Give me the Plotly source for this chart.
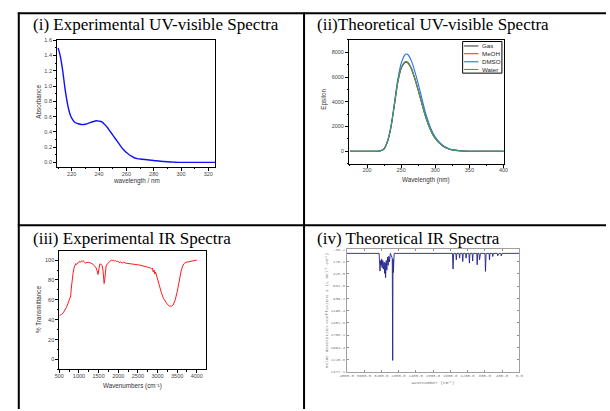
import plotly.graph_objects as go

W, H = 610, 411
def px(x):
    return x / W
def py(y):
    return (H - y) / H

# ---------------- data ----------------
# (i) experimental UV-vis
uv_exp_wl = [210, 211, 212, 213, 214, 215, 216, 217, 218, 219, 220, 222, 224, 226, 228, 230, 232, 234, 236,
             238, 240, 242, 244, 246, 248, 250, 252, 254, 256, 258, 260, 262, 264, 266, 268, 270, 275, 280,
             285, 290, 295, 300, 310, 325]
uv_exp_abs = [1.50, 1.44, 1.36, 1.25, 1.12, 0.98, 0.86, 0.76, 0.68, 0.62, 0.58, 0.53, 0.51, 0.50, 0.495, 0.50,
              0.51, 0.525, 0.535, 0.545, 0.54, 0.53, 0.50, 0.46, 0.41, 0.36, 0.31, 0.26, 0.21, 0.165, 0.13,
              0.10, 0.08, 0.06, 0.05, 0.045, 0.035, 0.025, 0.015, 0.008, 0.003, 0.0, 0.0, 0.0]

# (ii) theoretical UV-vis
uv_th_wl = [175, 200, 210, 215, 220, 225, 230, 235, 240, 245, 250, 255, 257, 260, 265, 270, 275, 280, 285,
            290, 295, 300, 305, 310, 315, 320, 325, 330, 340, 350, 360, 380, 400]
uv_gas = [0, 0, 0, 5, 44, 205, 790, 1930, 3700, 5550, 6700, 7150, 7200, 7130, 6650, 5860, 4920, 3930, 2930,
          2140, 1490, 1040, 715, 475, 305, 190, 118, 74, 29, 11, 4, 1, 0]
uv_meoh = [0, 0, 0, 5, 45, 208, 795, 1940, 3720, 5580, 6730, 7180, 7230, 7160, 6680, 5880, 4940, 3940, 2940,
           2145, 1495, 1045, 718, 478, 308, 193, 119, 75, 30, 11, 4, 1, 0]
uv_dmso = [0, 0, 0, 5, 45, 210, 820, 2000, 3850, 5800, 7100, 7750, 7850, 7800, 7300, 6450, 5450, 4350, 3250,
           2380, 1660, 1160, 800, 530, 345, 215, 135, 85, 33, 12, 4, 1, 0]
uv_water = [0, 0, 0, 5, 45, 210, 800, 1950, 3750, 5600, 6750, 7200, 7250, 7180, 6700, 5900, 4950, 3950, 2950,
            2150, 1500, 1050, 720, 480, 310, 195, 120, 75, 30, 11, 4, 1, 0]
uv_series = ["Gas", "MeOH", "DMSO", "Water"]
uv_colors = ["#3c3c3c", "#ee3b3b", "#2f6fe8", "#3aa060"]

# (iii) experimental IR
ir_exp_wn = [500, 530, 560, 600, 640, 680, 720, 750, 770, 790, 800, 820, 850, 880, 900, 920, 940, 960, 980,
             1000, 1030, 1060, 1080, 1100, 1130, 1160, 1200, 1250, 1300, 1350, 1400, 1440, 1470, 1485, 1495,
             1510, 1530, 1560, 1590, 1610, 1625, 1640, 1655, 1670, 1690, 1720, 1760, 1790, 1820, 1850, 1880,
             1900, 1930, 1960, 1990, 2020, 2060, 2100, 2140, 2180, 2250, 2350, 2450, 2550, 2650, 2720, 2780,
             2820, 2850, 2870, 2890, 2910, 2930, 2950, 2970, 3000, 3050, 3100, 3150, 3200, 3250, 3300, 3350,
             3400, 3450, 3500, 3550, 3600, 3650, 3700, 3750, 3800, 3850, 3900, 3950, 4000]
ir_exp_t = [44, 44.5, 45.5, 47, 49.5, 52.5, 56.5, 60, 62, 64, 70, 79, 87, 93, 95.5, 96.5, 95.5, 97, 97.5,
            98.5, 98, 99, 98.5, 99.5, 98.5, 97, 97.5, 97.8, 97, 96, 94, 92, 88, 85.5, 88,
            94, 96, 96, 94.5, 90, 83, 76.5, 80, 88, 94, 96, 98, 99.5, 100, 99.5, 100,
            99, 99.5, 98.5, 99, 97.5, 98, 97, 98, 97, 96.8, 96, 95.5, 95, 94.2, 93.5, 92.5,
            92, 91, 92, 88, 90, 86, 88, 85, 81, 74, 67, 61.5, 58, 55.5, 54, 53.5,
            55, 60, 68, 79, 89, 95, 97.5, 98, 98.3, 98.6, 99, 99.5, 100]

# (iv) theoretical IR (Gaussview style, inverted axes)
ir_th_wn = [0, 400, 418, 428, 470, 500, 510, 600, 615, 625, 680, 691, 700, 770, 784, 795, 900, 922, 932,
            965, 976, 986, 1070, 1081, 1092, 1145, 1157, 1168, 1222, 1234, 1245, 1300, 1311, 1322, 1372,
            1384, 1395, 1448, 1460, 1471, 1522, 1536, 1550, 2900, 2920, 2928, 2935, 2945, 2990, 3010, 3025,
            3040, 3055, 3070, 3085, 3100, 3110, 3120, 3135, 3150, 3165, 3180, 3190, 3200, 3215, 3230, 3250,
            4000]
ir_th_eps = [0, 0, 55, 0, 0, 50, 0, 0, 66, 0, 0, 135, 0, 0, 377, 0, 0, 135, 0,
             0, 238, 0, 0, 160, 0, 0, 203, 0, 0, 100, 0, 0, 170, 0, 0,
             100, 0, 0, 135, 0, 0, 327, 0, 0, 400, 120, 2240, 100, 0, 180, 60,
             250, 80, 350, 150, 510, 200, 420, 180, 330, 150, 300, 120, 250, 150, 370, 0,
             0]
ir_th_yticks = [-86.2, 170.1, 426.5, 682.8, 939.1, 1195.4, 1451.8, 1708.1, 1964.4, 2220.8, 2477.1]
ir_th_xticks = [4000, 3600, 3200, 2800, 2400, 2000, 1600, 1200, 800, 400, 0]

titles = ["(i) Experimental UV-visible Spectra", "(ii)Theoretical UV-visible Spectra",
          "(iii) Experimental IR Spectra", "(iv) Theoretical IR Spectra"]

# ---------------- figure ----------------
fig = go.Figure()

fig.add_trace(go.Scatter(x=uv_exp_wl, y=uv_exp_abs, mode="lines", line=dict(color="#1010ff", width=1.4, shape="spline"),
                         xaxis="x", yaxis="y", showlegend=False, name="Absorbance"))

uv_values = {"Gas": uv_gas, "MeOH": uv_meoh, "DMSO": uv_dmso, "Water": uv_water}
for name, col in zip(uv_series, uv_colors):
    fig.add_trace(go.Scatter(x=uv_th_wl, y=uv_values[name], mode="lines", name=name,
                             line=dict(color=col, width=1.1, shape="spline", smoothing=0.8),
                             xaxis="x2", yaxis="y2", showlegend=False))

fig.add_trace(go.Scatter(x=ir_exp_wn, y=ir_exp_t, mode="lines", line=dict(color="#ff1a1a", width=1.0),
                         xaxis="x3", yaxis="y3", showlegend=False, name="% Transmittance"))

fig.add_trace(go.Scatter(x=ir_th_wn, y=ir_th_eps, mode="lines", line=dict(color="#23238f", width=0.9),
                         xaxis="x4", yaxis="y4", showlegend=False, name="IR"))

tickfont = dict(family="Liberation Sans", size=5.5, color="#444")

def origin_axis(domain, rng, dtick, tick0, minor_dtick, anchor, fmt=None, standoff=0):
    d = dict(domain=domain, range=rng, anchor=anchor, showline=True, linecolor="black", linewidth=1,
             mirror=True, ticks="outside", ticklen=3, tickwidth=0.8, tickcolor="black",
             dtick=dtick, tick0=tick0, showgrid=False, zeroline=False, tickfont=tickfont,
             ticklabelstandoff=standoff,
             minor=dict(ticks="outside", ticklen=1.5, dtick=minor_dtick, tick0=tick0, tickcolor="black",
                        tickwidth=0.6, showgrid=False))
    if fmt:
        d["tickformat"] = fmt
    return d

gfont = dict(family="Liberation Mono", size=4.4, color="#777")

layout = dict(
    width=W, height=H, margin=dict(l=0, r=0, t=0, b=0),
    paper_bgcolor="white", plot_bgcolor="white", showlegend=False,
    xaxis=origin_axis([px(51), px(212)], [209.3, 325], 20, 200, 10, "y", standoff=-2),
    yaxis=origin_axis([py(166), py(37.3)], [-0.06, 1.605], 0.2, 0, 0.1, "x", ".1f"),
    xaxis2=origin_axis([px(348.3), px(506)], [173.6, 400.5], 50, 0, 25, "y2", standoff=-2),
    yaxis2=origin_axis([py(162.7), py(37.3)], [-1000, 9000], 2000, 0, 1000, "x2"),
    xaxis3=origin_axis([px(53.3), px(202.7)], [500, 4235], 500, 0, 250, "y3", standoff=-2),
    yaxis3=origin_axis([py(371), py(250.7)], [-10, 109.5], 20, 0, 10, "x3"),
    xaxis4=dict(domain=[px(346), px(521.7)], range=[4000, 0], anchor="y4", showline=True, linecolor="#a0a0a0",
                linewidth=0.8, mirror="allticks", ticks="inside", ticklen=2, tickwidth=0.6, tickcolor="#909090",
                tickvals=ir_th_xticks, ticktext=["%.1f" % v for v in ir_th_xticks], showgrid=False,
                zeroline=False, tickfont=dict(family="Liberation Mono", size=4, color="#777"),
                title=dict(text="Wavenumber (cm⁻¹)", font=gfont, standoff=3)),
    yaxis4=dict(domain=[py(373.3), py(249.3)], range=[2477.1, -86.2], anchor="x4", showline=True,
                linecolor="#a0a0a0", linewidth=0.8, mirror="allticks", ticks="inside", ticklen=2, tickwidth=0.6,
                tickcolor="#909090", tickvals=ir_th_yticks, ticktext=["%.1f" % v for v in ir_th_yticks],
                showgrid=False, zeroline=False, tickfont=dict(family="Liberation Mono", size=4, color="#777"),
                title=dict(text="Molar absorption coefficient ε (L mol⁻¹ cm⁻¹)", font=gfont, standoff=2)),
)
fig.update_layout(**layout)

# table lines
line_kw = dict(type="line", xref="paper", yref="paper", line=dict(color="black", width=2))
fig.add_shape(x0=px(11), x1=1, y0=py(10.5), y1=py(10.5), **line_kw)
fig.add_shape(x0=px(11), x1=1, y0=py(225), y1=py(225), **line_kw)
fig.add_shape(x0=px(12), x1=px(12), y0=py(9.5), y1=0, **line_kw)
fig.add_shape(x0=px(302.5), x1=px(302.5), y0=py(9.5), y1=0, **line_kw)

# panel titles
tfont = dict(family="Liberation Serif", size=17, color="black")
for t, (x, y) in zip(titles, [(25, 22), (315, 22), (25, 238), (315, 238)]):
    fig.add_annotation(text=t, x=px(x), y=py(y), xref="paper", yref="paper", xanchor="left", yanchor="middle",
                       showarrow=False, font=tfont, borderpad=0)

# axis titles
afont = dict(family="Liberation Sans", size=6.3, color="#333")
ax_titles = [
    ("Absorbance", 32.5, 100, -90),
    ("wavelength / nm", 131.5, 180.5, 0),
    ("Epsilon", 322.7, 97, -90),
    ("Wavelength (nm)", 427, 179, 0),
    ("% Transmittance", 32.3, 310, -90),
    ("Wavenumbers (cm⁻¹)", 127.7, 387.5, 0),
]
for t, x, y, ang in ax_titles:
    fig.add_annotation(text=t, x=px(x), y=py(y), xref="paper", yref="paper", xanchor="center", yanchor="middle",
                       showarrow=False, font=afont, textangle=ang)

# manual legend for panel (ii)
fig.add_shape(type="rect", xref="paper", yref="paper", x0=px(464), x1=px(504), y0=py(71), y1=py(39),
              line=dict(color="black", width=1), fillcolor="white")
lfont = dict(family="Liberation Sans", size=6.2, color="#222")
for i, (name, col) in enumerate(zip(uv_series, uv_colors)):
    yy = [43.5, 51.3, 59.5, 67.3][i]
    fig.add_shape(type="line", xref="paper", yref="paper", x0=px(465.5), x1=px(480), y0=py(yy), y1=py(yy),
                  line=dict(color=col, width=1.1))
    fig.add_annotation(text=name, x=px(481.5), y=py(yy), xref="paper", yref="paper", xanchor="left",
                       yanchor="middle", showarrow=False, font=lfont)

fig.write_html("out.html", config={"displayModeBar": False},
               post_script="document.body.style.margin='0px';")
